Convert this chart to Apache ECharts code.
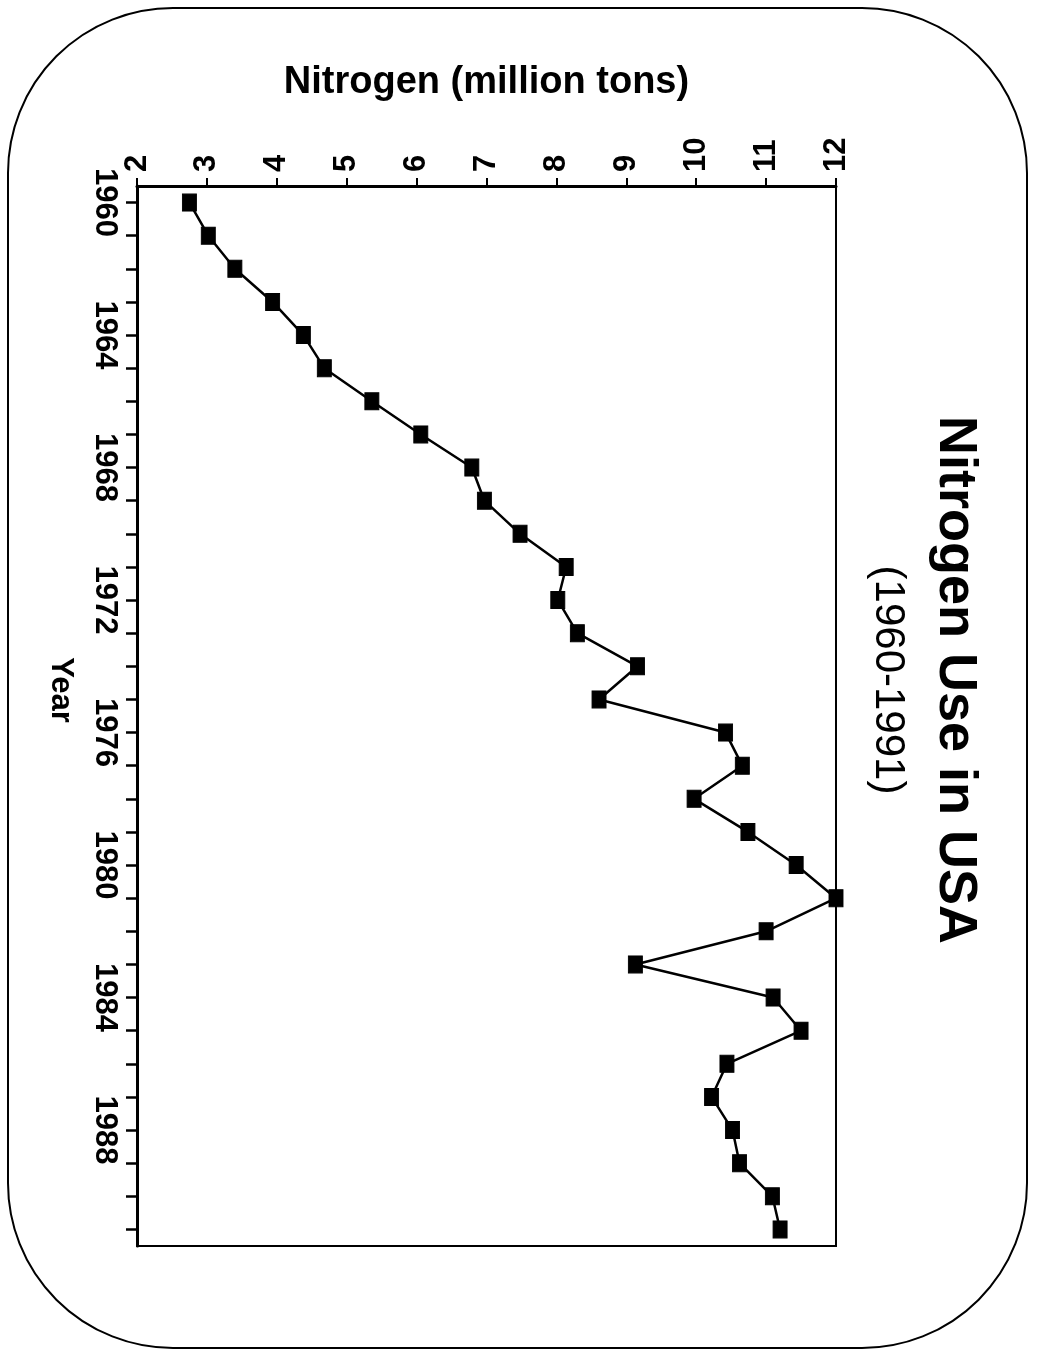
<!DOCTYPE html>
<html>
<head>
<meta charset="utf-8">
<script src="https://cdn.jsdelivr.net/npm/echarts@6/dist/echarts.min.js"></script>
<style>
html,body{margin:0;padding:0;background:#fff;}
#chart{width:1037px;height:1357px;}
</style>
</head>
<body>
<div id="chart"></div>
<script>
// ---- Data ----
var years = [1960,1961,1962,1963,1964,1965,1966,1967,1968,1969,
             1970,1971,1972,1973,1974,1975,1976,1977,1978,1979,
             1980,1981,1982,1983,1984,1985,1986,1987,1988,1989,
             1990,1991];
var nitrogen = [2.75,3.02,3.40,3.94,4.38,4.68,5.36,6.06,6.79,6.97,
                7.48,8.14,8.02,8.30,9.16,8.61,10.42,10.66,9.97,10.74,
                11.43,12.0,11.0,9.13,11.1,11.5,10.44,10.22,10.52,10.62,
                11.09,11.2];
var valueTicks = [2,3,4,5,6,7,8,9,10,11,12];
var yearTicks = [1960,1961,1962,1963,1964,1965,1966,1967,1968,1969,
                 1970,1971,1972,1973,1974,1975,1976,1977,1978,1979,
                 1980,1981,1982,1983,1984,1985,1986,1987,1988,1989,
                 1990,1991];
var yearLabels = [1960,1964,1968,1972,1976,1980,1984,1988];
var titleText = 'Nitrogen Use in USA';
var subtitleText = '(1960-1991)';
var valueAxisName = 'Nitrogen (million tons)';
var yearAxisName = 'Year';

var FONT = '"Liberation Sans", Arial, Helvetica, sans-serif';
var chart = echarts.init(document.getElementById('chart'), null, {renderer:'canvas'});

var seriesData = years.map(function(y, i){ return [nitrogen[i], y]; });

var option = {
  backgroundColor: '#fff',
  animation: false,
  grid: {
    left: 137, top: 186, width: 699, height: 1060,
    show: true, borderColor: '#000', borderWidth: 2, backgroundColor: 'transparent'
  },
  xAxis: {
    type: 'value', position: 'top',
    min: 2, max: 12, interval: 1,
    name: valueAxisName, nameLocation: 'middle', nameGap: 84,
    nameTextStyle: {fontFamily: FONT, fontSize: 38, fontWeight: 'bold', color: '#000'},
    axisLine: {show: true, lineStyle: {color: '#000', width: 3}},
    axisTick: {show: true, length: 8, lineStyle: {color: '#000', width: 2}},
    axisLabel: {rotate: -90, margin: 14, fontFamily: FONT, fontSize: 31, fontWeight: 'bold', color: '#000',
                formatter: function(v){ return String(v); }},
    splitLine: {show: false}
  },
  yAxis: {
    type: 'value', position: 'left', inverse: true,
    min: 1959.5, max: 1991.5,
    axisLine: {show: true, lineStyle: {color: '#000', width: 3}},
    axisTick: {show: true, length: 11, customValues: yearTicks, lineStyle: {color: '#000', width: 2.5}},
    axisLabel: {rotate: -90, margin: 17, customValues: yearLabels, fontFamily: FONT, fontSize: 31, fontWeight: 'bold', color: '#000',
                formatter: function(v){ return String(v); }},
    splitLine: {show: false}
  },
  series: [{
    type: 'line',
    data: seriesData,
    symbol: 'rect',
    symbolSize: [14, 17],
    lineStyle: {color: '#000', width: 2.5},
    itemStyle: {color: '#000', borderColor: '#000'},
    clip: false
  }],
  graphic: [
    {
      type: 'rect', silent: true, z: 0,
      shape: {x: 8, y: 8, width: 1019, height: 1340, r: 165},
      style: {fill: 'none', stroke: '#000', lineWidth: 2}
    },
    {
      type: 'text', x: 955, y: 680, rotation: -Math.PI/2,
      style: {text: titleText, font: 'bold 54px ' + FONT, fill: '#000', textAlign: 'center', textVerticalAlign: 'middle'}
    },
    {
      type: 'text', x: 888, y: 680, rotation: -Math.PI/2,
      style: {text: subtitleText, font: '42px ' + FONT, fill: '#000', textAlign: 'center', textVerticalAlign: 'middle'}
    },
    {
      type: 'text', x: 61, y: 690, rotation: -Math.PI/2,
      style: {text: yearAxisName, font: 'bold 31px ' + FONT, fill: '#000', textAlign: 'center', textVerticalAlign: 'middle'}
    }
  ]
};
chart.setOption(option);
</script>
</body>
</html>
